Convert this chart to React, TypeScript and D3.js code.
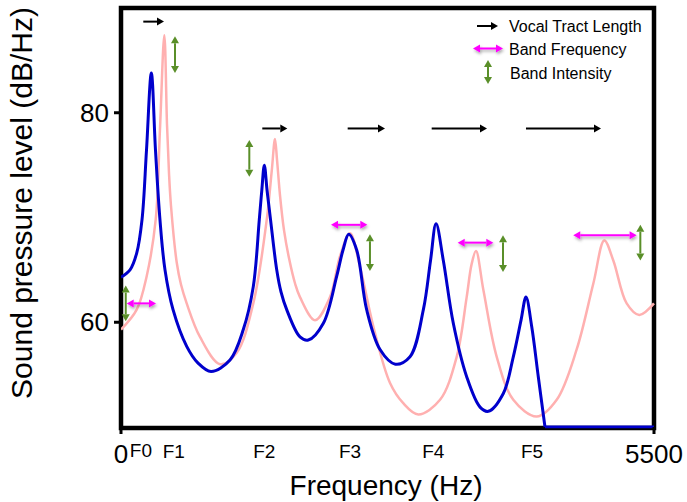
import React from 'react';
import * as d3 from 'd3';

// spectra (Hz, dB/Hz)
const blueHz = [0, 93, 162, 217, 263, 313, 356, 402, 454, 537, 678, 795, 929, 1125, 1262, 1365, 1427, 1453, 1479, 1507, 1543, 1607, 1651, 1710, 1847, 1933, 2088, 2226, 2291, 2350, 2432, 2535, 2673, 2831, 2982, 3120, 3194, 3251, 3326, 3429, 3567, 3705, 3790, 3945, 4048, 4128, 4179, 4238, 4306, 4375, 5500];
const blueDb = [64.3, 65.0, 66.6, 69.8, 76.4, 83.8, 76.4, 69.8, 65.0, 61.2, 57.7, 56.1, 55.3, 56.4, 59.3, 63.4, 69.8, 72.6, 75.0, 72.6, 69.8, 65.0, 62.9, 61.2, 58.6, 58.3, 59.9, 64.4, 66.9, 68.4, 66.9, 61.2, 57.4, 56.0, 56.7, 61.2, 65.9, 69.4, 65.9, 59.9, 54.8, 51.9, 51.5, 53.2, 56.7, 60.2, 62.4, 59.6, 54.8, 50.0, 50.0];

const pinkHz = [0, 162, 265, 358, 402, 447, 475, 495, 516, 575, 619, 678, 815, 1022, 1194, 1365, 1504, 1556, 1589, 1610, 1641, 1682, 1734, 1796, 1847, 2002, 2157, 2260, 2363, 2466, 2604, 2776, 2910, 3068, 3292, 3464, 3567, 3617, 3663, 3739, 3877, 4048, 4290, 4496, 4702, 4874, 4987, 5080, 5218, 5348, 5500];
const pinkDb = [59.3, 61.2, 64.4, 69.8, 78.4, 87.4, 78.8, 74.3, 71.1, 65.7, 63.6, 61.8, 58.6, 56.0, 57.1, 61.8, 69.8, 74.5, 77.5, 75.5, 72.1, 68.8, 66.1, 63.7, 62.4, 60.2, 62.4, 66.3, 68.5, 65.3, 59.6, 54.2, 52.3, 51.2, 52.6, 56.7, 62.4, 65.5, 66.8, 63.1, 56.7, 52.6, 51.0, 52.6, 57.4, 63.7, 67.8, 65.9, 61.8, 60.7, 61.8];

const xTicks = [0, 5500];
const yTicks = [60, 80];
const formantLabels = ['F0', 'F1', 'F2', 'F3', 'F4', 'F5'];
const formantHz = [206, 545, 1479, 2363, 3223, 4241];

// annotation arrows
const tractStart = [230, 1458, 2339, 3206, 4179];
const tractEnd = [444, 1716, 2724, 3777, 4953];
const tractDb = [88.7, 78.5, 78.5, 78.5, 78.5];

const freqStart = [59, 2167, 3474, 4667];
const freqEnd = [361, 2542, 3842, 5321];
const freqDb = [61.8, 69.3, 67.6, 68.3];

const intHz = [49, 557, 1324, 2569, 3942, 5359];
const intTop = [63.5, 87.3, 77.4, 68.4, 68.3, 69.3];
const intBottom = [60.1, 83.8, 73.9, 64.9, 64.8, 65.9];

const legendLabels = ['Vocal Tract Length', 'Band Frequency', 'Band Intensity'];

const W = 687;
const H = 502;
const FONT = '"Liberation Sans", Arial, Helvetica, sans-serif';
const BLUE = '#0000cc';
const PINK = '#ffb0b0';
const GREEN = '#5a8f29';
const MAGENTA = '#ff00ff';

const x = d3.scaleLinear().domain([0, 5500]).range([121, 654]);
const y = d3.scaleLinear().domain([50, 90]).range([427, 8]);

function head(x1: number, y1: number, ux: number, uy: number, len = 7, w = 8) {
  const bx = x1 - ux * len;
  const by = y1 - uy * len;
  const px = -uy * w / 2;
  const py = ux * w / 2;
  return `${x1},${y1} ${bx + px},${by + py} ${bx - px},${by - py}`;
}

function Arrow({ x0, y0, x1, y1, color, both = false, filter }: any) {
  const d = Math.hypot(x1 - x0, y1 - y0);
  const ux = (x1 - x0) / d;
  const uy = (y1 - y0) / d;
  const len = 7;
  const sx = both ? x0 + ux * len : x0;
  const sy = both ? y0 + uy * len : y0;
  return (
    <g filter={filter}>
      <line x1={sx} y1={sy} x2={x1 - ux * len} y2={y1 - uy * len} stroke={color} strokeWidth={2} />
      <polygon points={head(x1, y1, ux, uy)} fill={color} />
      {both && <polygon points={head(x0, y0, -ux, -uy)} fill={color} />}
    </g>
  );
}

export default function App() {
  const smooth = d3.line<number>().curve(d3.curveCatmullRom.alpha(0.5));
  const straight = d3.line<number>();
  const bluePts = blueHz.map((h, i) => [x(h), y(blueDb[i])]) as any;
  const pinkPts = pinkHz.map((h, i) => [x(h), y(pinkDb[i])]) as any;
  // blue spectrum is cut off at the floor, so the last stretch is a straight line
  const bluePath = (smooth(bluePts.slice(0, -1)) || '') + (straight(bluePts.slice(-2)) || '');
  const pinkPath = smooth(pinkPts) || '';

  return (
    <svg width={W} height={H} style={{ position: 'absolute', left: 0, top: 0, background: '#fff' }} fontFamily={FONT}>
      <defs>
        <filter id="shadow" x="-20%" y="-100%" width="140%" height="300%">
          <feDropShadow dx="1" dy="2" stdDeviation="1.5" floodColor="#000" floodOpacity="0.35" />
        </filter>
        <clipPath id="plot">
          <rect x={x(0)} y={y(90)} width={x(5500) - x(0) + 1} height={y(50) - y(90) + 1.5} />
        </clipPath>
      </defs>

      {/* frame */}
      <rect x={x(0)} y={y(90)} width={x(5500) - x(0)} height={y(50) - y(90) + 1} fill="none" stroke="#000" strokeWidth={4.5} />

      {/* curves */}
      <g clipPath="url(#plot)">
        <path d={pinkPath} fill="none" stroke={PINK} strokeWidth={2.5} />
        <path d={bluePath} fill="none" stroke={BLUE} strokeWidth={3} strokeLinejoin="round" />
      </g>

      {/* ticks */}
      {xTicks.map((t) => (
        <g key={t}>
          <line x1={x(t)} x2={x(t)} y1={y(50)} y2={y(50) + 7} stroke="#000" strokeWidth={3} />
          <text x={x(t)} y={463} textAnchor="middle" fontSize={26}>{t}</text>
        </g>
      ))}
      {yTicks.map((t) => (
        <g key={t}>
          <line x1={x(0) - 7} x2={x(0)} y1={y(t)} y2={y(t)} stroke="#000" strokeWidth={3} />
          <text x={109} y={y(t)} dy="0.35em" textAnchor="end" fontSize={26}>{t}</text>
        </g>
      ))}
      {formantLabels.map((f, i) => (
        <text key={f} x={x(formantHz[i])} y={i === 0 ? 457 : 458} textAnchor="middle" fontSize={19}>{f}</text>
      ))}

      {/* axis titles */}
      <text x={386} y={495} textAnchor="middle" fontSize={28}>Frequency (Hz)</text>
      <text transform="translate(32,203) rotate(-90)" textAnchor="middle" fontSize={30}>Sound pressure level (dB/Hz)</text>

      {/* annotations */}
      {tractStart.map((s, i) => (
        <Arrow key={'t' + i} x0={x(s)} y0={y(tractDb[i])} x1={x(tractEnd[i])} y1={y(tractDb[i])} color="#000" />
      ))}
      {freqStart.map((s, i) => (
        <Arrow key={'f' + i} x0={x(s)} y0={y(freqDb[i])} x1={x(freqEnd[i])} y1={y(freqDb[i])} color={MAGENTA} both filter="url(#shadow)" />
      ))}
      {intHz.map((h, i) => (
        <Arrow key={'i' + i} x0={x(h)} y0={y(intTop[i])} x1={x(h)} y1={y(intBottom[i])} color={GREEN} both />
      ))}

      {/* legend */}
      <Arrow x0={477} y0={26} x1={498} y1={26} color="#000" />
      <Arrow x0={473} y0={48.5} x1={503} y1={48.5} color={MAGENTA} both filter="url(#shadow)" />
      <Arrow x0={488} y0={60} x1={488} y1={84} color={GREEN} both />
      {legendLabels.map((l, i) => (
        <text key={l} x={i === 2 ? 510 : 509} y={[26, 49, 73][i]} dy="0.35em" fontSize={16}>{l}</text>
      ))}
    </svg>
  );
}
